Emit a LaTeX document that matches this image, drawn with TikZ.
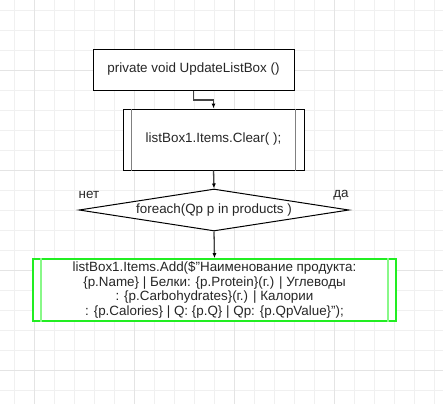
\documentclass[tikz,border=0pt]{standalone}
\usepackage{fontspec}
\setmainfont{Liberation Sans}
\usetikzlibrary{shapes.geometric,arrows.meta}
\definecolor{gridminor}{HTML}{F0F0F0}
\definecolor{gridmajor}{HTML}{E4E4E4}
\definecolor{flowgray}{HTML}{444444}
\definecolor{boxgreen}{HTML}{22EE22}
\definecolor{sidegreen}{HTML}{88F888}
\begin{document}
\begin{tikzpicture}[x=1pt, y=-1pt,
    every node/.style={font=\fontsize{13.4}{14.4}\selectfont, text=black!85},
    procbox/.style={draw, line width=1pt, minimum width=201pt, minimum height=41pt},
    subbox/.style={draw, line width=1pt, minimum width=181pt, minimum height=61pt},
    outbox/.style={draw=boxgreen, line width=1.6pt, minimum width=363pt, minimum height=62pt, align=center, inner sep=0pt},
    decision/.style={draw, line width=1pt, diamond, aspect=6.43, inner sep=0pt, minimum width=270pt, minimum height=42pt},
    flow/.style={draw=flowgray, line width=1.3pt, -{Latex[length=5pt, width=4pt, color=black]}}]
        \useasboundingbox (0,0) rectangle (443,404);
        % Grid
        \foreach \gx in {14,34,...,434} \draw[gridminor, line width=0.9pt] (\gx,0) -- (\gx,404);
        \foreach \gy in {10,30,...,390} \draw[gridminor, line width=0.9pt] (0,\gy) -- (443,\gy);
        \foreach \gx in {34,134,234,334} \draw[gridmajor, line width=0.9pt] (\gx,0) -- (\gx,404);
        \foreach \gy in {70,170,270,370} \draw[gridmajor, line width=0.9pt] (0,\gy) -- (443,\gy);

        % Nodes
        \node[procbox, fill=white] (update) at (193.5,69.5) {private void UpdateListBox ()};
        \node[subbox, fill=white] (clear) at (213.5,139.5) {listBox1.Items.Clear( );};
        \node[decision, fill=white] (loop) at (214,210) {foreach(Qp p in products )};
        \node[outbox, fill=white] (add) at (214.5,290) {listBox1.Items.Add(\$"Наименование продукта:\\
            \{p.Name\} | Белки: \{p.Protein\}(г.) | Углеводы\\
            : \{p.Carbohydrates\}(г.) | Калории\\
            : \{p.Calories\} | Q: \{p.Q\} | Qp: \{p.QpValue\}");};

        % Side lines of the predefined process boxes
        \draw[gray, line width=1.6pt] ([xshift=9pt]clear.north west) -- ([xshift=9pt]clear.south west);
        \draw[gray, line width=1.6pt] ([xshift=-9pt]clear.north east) -- ([xshift=-9pt]clear.south east);
        \draw[sidegreen, line width=1.6pt] ([xshift=9pt]add.north west) -- ([xshift=9pt]add.south west);
        \draw[sidegreen, line width=1.6pt] ([xshift=-9pt]add.north east) -- ([xshift=-9pt]add.south east);

        % Branch labels
        \node (no) at (89,195) {нет};
        \node (yes) at (341,195) {да};

        % Connectors
        \draw[flow] (update.south) -- ++(0,9.5) -| (clear.north);
        \draw[flow] (clear.south) -- (loop.north);
        \draw[flow] (loop.south) -- (add.north);
    \end{tikzpicture}
\end{document}
